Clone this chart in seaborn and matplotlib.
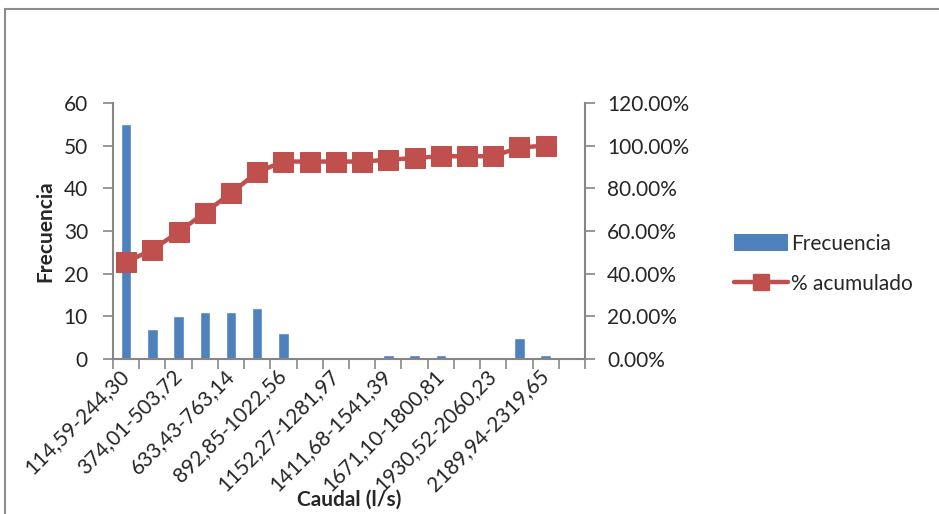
import numpy as np
import pandas as pd
import matplotlib
matplotlib.use("Agg")
import matplotlib.pyplot as plt
from matplotlib.patches import Rectangle
from matplotlib.lines import Line2D
from matplotlib.patches import Patch
from matplotlib.ticker import PercentFormatter
import seaborn as sns

# Flow classes (l/s) and number of observations per class
clases = ["114,59-244,30", "244,30-374,01", "374,01-503,72", "503,72-633,43",
          "633,43-763,14", "763,14-892,85", "892,85-1022,56", "1022,56-1152,27",
          "1152,27-1281,97", "1281,97-1411,68", "1411,68-1541,39", "1541,39-1671,10",
          "1671,10-1800,81", "1800,81-1930,52", "1930,52-2060,23", "2060,23-2189,94",
          "2189,94-2319,65"]
frecuencia = [55, 7, 10, 11, 11, 12, 6, 0, 0, 0, 1, 1, 1, 0, 0, 5, 1]
acumulado = [45.45, 51.24, 59.50, 68.60, 77.69, 87.60, 92.56, 92.56, 92.56, 92.56,
             93.39, 94.21, 95.04, 95.04, 95.04, 99.17, 100.00]

BLUE = "#4F81BD"
RED = "#C0504D"
GRAY = "#868686"
FS = 15

sns.set_theme(style="white")
plt.rcParams["font.family"] = ["Lato", "DejaVu Sans"]

df = pd.DataFrame({"clase": clases, "pos": np.arange(len(clases)),
                   "frecuencia": frecuencia, "acumulado": acumulado})

fig = plt.figure(figsize=(9.39, 5.14), dpi=100)
ax = fig.add_axes([113 / 939, 1 - 359 / 514, 472 / 939, 256 / 514])

sns.barplot(data=df, x="clase", y="frecuencia", color=BLUE, width=0.4,
            saturation=1, ax=ax, order=clases)
ax.set_xlim(-0.5, 17.5)
ax.set_ylim(0, 60)
ax.set_yticks(range(0, 61, 10))

ax2 = ax.twinx()
sns.lineplot(data=df, x="pos", y="acumulado", color=RED, lw=3.2, marker="s",
             markersize=15, markeredgecolor=RED, ax=ax2)
ax2.set_xlim(-0.5, 17.5)
ax2.set_ylim(0, 120)
ax2.set_yticks(range(0, 121, 20))
ax2.yaxis.set_major_formatter(PercentFormatter(decimals=2))
ax2.set_ylabel("")
ax2.set_xlabel("")

# Category axis: tick marks between classes, labels on every other class
ax.set_xticks(np.arange(-0.5, 18, 1))
ax.set_xticklabels([""] * 19)
ax.set_xticks(range(0, len(clases), 2), minor=True)
ax.set_xticklabels(clases[::2], minor=True, rotation=45, ha="right",
                   rotation_mode="anchor", fontsize=FS, va="center")
ax.tick_params(axis="x", which="major", length=7, width=1.2, color=GRAY,
               direction="out", bottom=True)
ax.tick_params(axis="x", which="minor", length=0, pad=10, bottom=True)
ax.tick_params(axis="y", length=7, width=1.2, color=GRAY, direction="out",
               labelsize=FS, pad=11, left=True)
ax2.tick_params(axis="y", length=7, width=1.2, color=GRAY, direction="out",
                labelsize=FS, pad=9, right=True)

for a in (ax, ax2):
    for s in a.spines.values():
        s.set_visible(False)
ax.spines["left"].set_visible(True)
ax.spines["bottom"].set_visible(True)
ax2.spines["right"].set_visible(True)
for s in (ax.spines["left"], ax.spines["bottom"], ax2.spines["right"]):
    s.set_color(GRAY)
    s.set_linewidth(1.5)

ax.set_xlabel("")
ax.set_ylabel("Frecuencia", fontsize=FS, fontweight="bold", labelpad=6)
fig.text(349 / 939, 1 - 500 / 514, "Caudal (l/s)", fontsize=FS,
         fontweight="bold", ha="center", va="center")

handles = [Patch(facecolor=BLUE, edgecolor="none"),
           Line2D([0], [0], color=RED, lw=3.2, marker="s", markersize=11)]
fig.legend(handles, ["Frecuencia", "% acumulado"], loc="center left",
           bbox_to_anchor=(715 / 939, 1 - 264 / 514), frameon=False,
           fontsize=FS, handlelength=2.6, handleheight=0.9,
           handletextpad=0.15, labelspacing=1.0)

# Outer chart frame
fig.patches.append(Rectangle((5 / 939, -0.1), 1.2, 1 - 9 / 514 + 0.1,
                             transform=fig.transFigure, fill=False,
                             edgecolor="#8C8C8C", lw=1.5))

fig.savefig("out.png", dpi=100)
